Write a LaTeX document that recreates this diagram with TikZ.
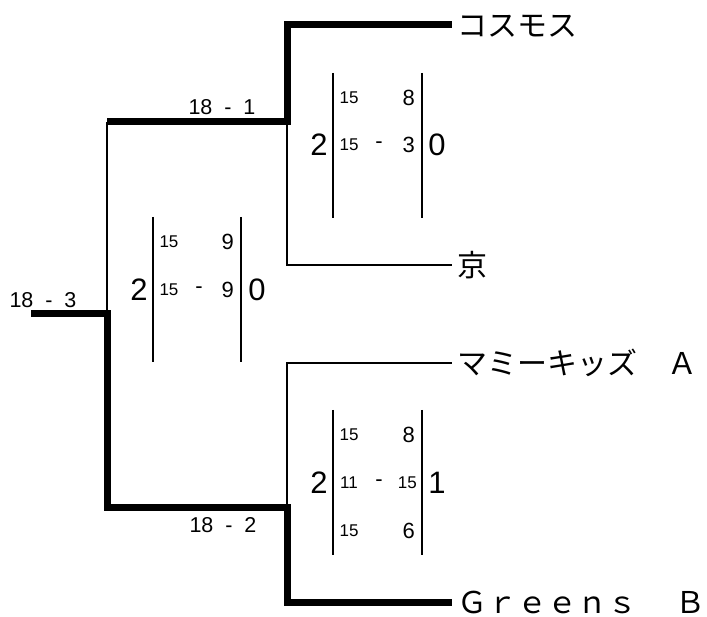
\documentclass[tikz,border=0pt]{standalone}
\usepackage{fontspec}
\setmainfont{Liberation Sans}
\newfontfamily\jpfont{Noto Sans CJK JP}

\tikzset{
  win/.style={line width=7pt},
  lose/.style={line width=2.5pt},
  bar/.style={line width=2.5pt},
  team/.style={anchor=west, inner xsep=5pt, inner ysep=0pt, text height=26.4pt, text depth=3.6pt,
    font=\jpfont\fontsize{30}{30}\selectfont},
  score/.style={inner sep=0pt, font=\fontsize{21.5}{21.5}\selectfont},
  big/.style={inner sep=0pt, font=\fontsize{31}{31}\selectfont},
  sm/.style={inner sep=0pt, font=\fontsize{17}{17}\selectfont},
  sc/.style={inner sep=0pt, font=\fontsize{22}{22}\selectfont}
}

\begin{document}
\begin{tikzpicture}[x=1pt,y=-1pt]
    \useasboundingbox (0,0) rectangle (707,617);

    % bracket corners
    \coordinate (root) at (31,314);
    \coordinate (semi) at (107,314);
    \coordinate (semitop) at (107,122);
    \coordinate (semibot) at (107,507);
    \coordinate (upper) at (287,122);
    \coordinate (lower) at (287,507);

    % teams
    \node [team] (cosmos) at (452,25) {コスモス};
    \node [team] (kyo) at (452,265) {京};
    \node [team] (mami) at (452,363) {マミーキッズ　Ａ};
    \node [team] (greens) at (452,602) {Ｇｒｅｅｎｓ\hspace{8pt}　Ｂ};

    % winners path
    \draw [win] (root) -- (semi) -- (semibot) -- (lower) -- (lower |- greens.west) -- (greens.west);
    \draw [win] (semitop) -- (upper) -- (upper |- cosmos.west) -- (cosmos.west);
    % losers
    \draw [lose] (semitop) -- (semi);
    \draw [lose] (upper) -- (upper |- kyo.west) -- (kyo.west);
    \draw [lose] (lower) -- (lower |- mami.west) -- (mami.west);

    % set scores
    \node [score] (final) at (43,300) {18\ \ -\ \ 3};
    \node [score] (semiA) at (222,107) {18\ \ -\ \ 1};
    \node [score] (semiB) at (223,525) {18\ \ -\ \ 2};

    % semi A sets
    \draw [bar] (333,73) -- (333,218);
    \draw [bar] (422,73) -- (422,218);
    \node [big] (aw) at (319,145) {2};
    \node [big] (al) at (437,145) {0};
    \node [sm] (a1l) at (349,98) {15};
    \node [sc, anchor=east] (a1r) at (415,98) {8};
    \node [sm] (a2l) at (349,145) {15};
    \node [sc] (a2d) at (379,145) {-};
    \node [sc, anchor=east] (a2r) at (415,145) {3};

    % final sets
    \draw [bar] (153,217) -- (153,362);
    \draw [bar] (241,217) -- (241,362);
    \node [big] (fw) at (139,290) {2};
    \node [big] (fl) at (257,290) {0};
    \node [sm] (f1l) at (169,242) {15};
    \node [sc, anchor=east] (f1r) at (234,242) {9};
    \node [sm] (f2l) at (169,290) {15};
    \node [sc] (f2d) at (199,290) {-};
    \node [sc, anchor=east] (f2r) at (234,290) {9};

    % semi B sets
    \draw [bar] (333,410) -- (333,555);
    \draw [bar] (422,410) -- (422,555);
    \node [big] (bw) at (319,483) {2};
    \node [big] (bl) at (437,483) {1};
    \node [sm] (b1l) at (349,435) {15};
    \node [sc, anchor=east] (b1r) at (415,435) {8};
    \node [sm] (b2l) at (349,483) {11};
    \node [sc] (b2d) at (379,483) {-};
    \node [sm, anchor=east] (b2r) at (417,483) {15};
    \node [sm] (b3l) at (349,531) {15};
    \node [sc, anchor=east] (b3r) at (415,531) {6};
\end{tikzpicture}
\end{document}
